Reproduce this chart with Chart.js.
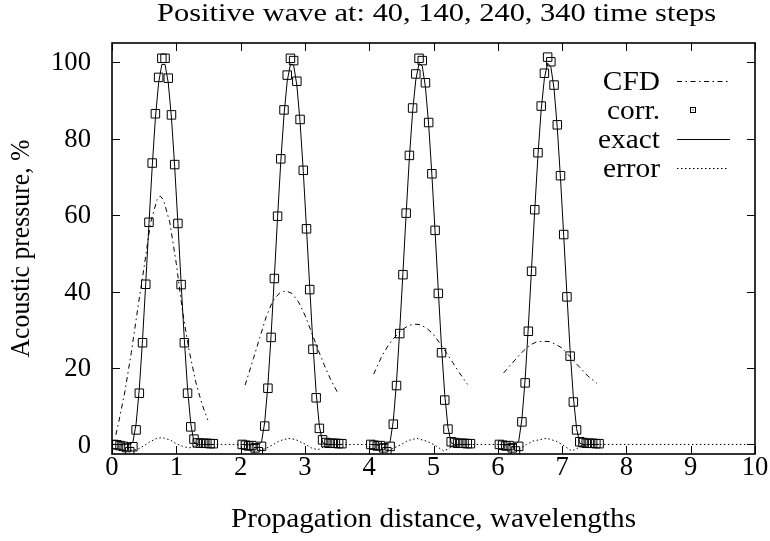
<!DOCTYPE html>
<html>
<head>
<meta charset="utf-8">
<script src="https://cdn.jsdelivr.net/npm/chart.js@4.4.1/dist/chart.umd.min.js"></script>
<style>
html,body{margin:0;padding:0;background:#fff;}
canvas{display:block;}
</style>
</head>
<body>
<canvas id="c" width="770" height="541"></canvas>
<script>
// ---------- DATA ----------
const titleText = "Positive wave at: 40, 140, 240, 340 time steps";
const xTitle = "Propagation distance, wavelengths";
const yTitle = "Acoustic pressure, %";
const xTicks = [0,1,2,3,4,5,6,7,8,9,10];
const yTicks = [0,20,40,60,80,100];
const legendLabels = ["CFD","corr.","exact","error"];

// corrected solution (squares)
const corrX1 = [0.025,0.075,0.125,0.175,0.225,0.275,0.325,0.375,0.425,0.475,0.525,0.575,0.625,0.675,0.725,0.775,0.825,0.875,0.925,0.975,1.025,1.075,1.125,1.175,1.225,1.275,1.325,1.375,1.425,1.475,1.525,1.575];
const corrY1 = [0.0,-0.1,-0.3,-0.5,-0.8,-1.9,-0.6,3.8,13.4,26.6,41.9,58.1,73.6,86.5,96.0,101.0,101.0,95.8,86.2,73.2,57.8,41.8,26.6,13.4,4.6,1.4,0.4,0.3,0.3,0.3,0.2,0.2];
const corrX2 = [2.025,2.075,2.125,2.175,2.225,2.275,2.325,2.375,2.425,2.475,2.525,2.575,2.625,2.675,2.725,2.775,2.825,2.875,2.925,2.975,3.025,3.075,3.125,3.175,3.225,3.275,3.325,3.375,3.425,3.475,3.525,3.575];
const corrY2 = [0.0,-0.2,-0.4,-0.3,-0.9,-1.9,-0.5,4.8,14.7,28.0,43.4,59.7,74.7,87.5,96.6,101.0,100.4,95.0,85.0,71.7,56.4,40.5,24.9,12.2,4.2,1.2,0.5,0.3,0.3,0.3,0.2,0.2];
const corrX3 = [4.025,4.075,4.125,4.175,4.225,4.275,4.325,4.375,4.425,4.475,4.525,4.575,4.625,4.675,4.725,4.775,4.825,4.875,4.925,4.975,5.025,5.075,5.125,5.175,5.225,5.275,5.325,5.375,5.425,5.475,5.525,5.575];
const corrY3 = [0.0,-0.2,-0.4,-0.3,-0.9,-1.9,-0.5,5.3,15.4,29.0,44.4,60.5,75.6,88.0,96.9,101.0,100.4,94.6,84.2,70.8,56.0,39.5,24.0,11.6,4.0,0.7,0.5,0.3,0.3,0.3,0.2,0.2];
const corrX4 = [6.025,6.075,6.125,6.175,6.225,6.275,6.325,6.375,6.425,6.475,6.525,6.575,6.625,6.675,6.725,6.775,6.825,6.875,6.925,6.975,7.025,7.075,7.125,7.175,7.225,7.275,7.325,7.375,7.425,7.475,7.525,7.575];
const corrY4 = [0.0,-0.2,-0.4,-0.3,-0.9,-1.7,-0.5,5.9,16.1,29.6,45.3,61.4,76.3,88.5,97.1,101.3,100.1,94.0,83.6,70.3,54.9,38.6,23.1,11.1,3.8,0.7,0.5,0.3,0.3,0.3,0.2,0.2];

// exact solution (solid line)
const exactY1 = [0,0,0,0,0,0,0.6,5.4,14.6,27.4,42.2,57.8,72.6,85.4,94.6,99.4,99.4,94.6,85.4,72.6,57.8,42.2,27.4,14.6,5.4,0.6,0,0,0,0,0,0];
const exactY2 = [0,0,0,0,0,0,0.6,5.8,15.6,28.8,43.8,59.4,74.0,86.2,95.0,99.5,99.2,93.9,84.4,71.4,56.4,41.2,26.2,13.6,4.8,0.5,0,0,0,0,0,0];
const exactY3 = [0,0,0,0,0,0,0.7,6.2,16.4,30.0,45.0,60.5,75.0,87.0,95.4,99.6,99.0,93.4,83.6,70.5,55.6,40.2,25.4,13.0,4.5,0.4,0,0,0,0,0,0];
const exactY4 = [0,0,0,0,0,0,0.8,6.6,17.0,30.8,46.0,61.4,75.8,87.6,95.8,99.7,98.8,93.0,82.9,69.6,54.6,39.2,24.5,12.4,4.2,0.3,0,0,0,0,0,0];

// raw CFD solution (dash-dot line)
const cfdX1 = [0.06,0.1,0.2,0.3,0.4,0.5,0.6,0.7,0.75,0.8,0.9,1.0,1.1,1.2,1.3,1.4,1.49];
const cfdY1 = [2.5,5.5,13.8,24.0,35.5,46.5,58.0,64.0,65.0,64.0,58.0,47.3,34.5,24.5,16.5,10.5,6.4];
const cfdX2 = [2.07,2.2,2.3,2.4,2.5,2.6,2.7,2.8,2.9,3.0,3.1,3.2,3.3,3.4,3.51];
const cfdY2 = [15.5,22.5,28.0,33.5,37.5,39.5,40.2,39.5,37.3,33.8,29.5,25.0,20.8,17.0,13.5];
const cfdX3 = [4.07,4.2,4.3,4.4,4.5,4.6,4.7,4.8,4.9,5.0,5.1,5.2,5.3,5.4,5.53];
const cfdY3 = [18.4,23.2,26.0,28.1,29.8,31.0,31.5,31.3,30.3,28.8,26.4,24.0,21.4,18.8,15.7];
const cfdX4 = [6.09,6.2,6.3,6.4,6.5,6.6,6.7,6.8,6.9,7.0,7.1,7.2,7.3,7.4,7.54];
const cfdY4 = [18.7,20.8,22.7,24.5,26.0,26.8,27.0,26.9,26.2,25.2,23.4,21.5,19.7,17.9,16.0];

// error (dotted line)
const errX = [0,0.1,0.2,0.3,0.4,0.5,0.6,0.7,0.78,0.9,1.0,1.1,1.2,1.3,1.4,
              2.0,2.2,2.3,2.4,2.5,2.6,2.74,2.85,3.0,3.1,3.2,3.3,3.4,
              4.0,4.2,4.3,4.4,4.5,4.6,4.74,4.9,5.0,5.16,5.3,5.4,
              6.0,6.2,6.3,6.45,6.55,6.76,6.9,7.0,7.15,7.3,7.4,10.0];
const errY = [0,0,-0.3,-1.5,-1.3,-0.3,0.8,1.6,1.8,1.2,0.2,-0.5,-0.9,-0.4,0,
              0,-0.3,-1.5,-1.0,-0.1,0.9,1.6,1.3,0.1,-0.9,-1.4,-0.6,0,
              0,-0.3,-1.5,-0.8,0,1.0,1.6,0.8,0,-1.7,-0.5,0,
              0,-0.3,-1.5,0,0.9,1.6,0.9,0,-1.7,-0.5,0,0];

// ---------- BUILD ----------
function pts(xs, ys){ return xs.map((x,i)=>({x:x, y:ys[i]})); }
function joinGaps(parts){ const out=[]; parts.forEach((p,i)=>{ if(i) out.push({x:p[0].x-0.01, y:null}); out.push(...p); }); return out; }

const corrData = [].concat(pts(corrX1,corrY1),pts(corrX2,corrY2),pts(corrX3,corrY3),pts(corrX4,corrY4));
const exactData = joinGaps([pts(corrX1,exactY1),pts(corrX2,exactY2),pts(corrX3,exactY3),pts(corrX4,exactY4)]);
const cfdData = joinGaps([pts(cfdX1,cfdY1),pts(cfdX2,cfdY2),pts(cfdX3,cfdY3),pts(cfdX4,cfdY4)]);
const errData = pts(errX, errY);

const FONT = '"Liberation Serif", "Times New Roman", serif';
const CFD_DASH = [5,3.5,1.5,3.5];
const ERR_DASH = [1.5,2.5];

function txt(ctx, s, x, y, size, targetW, align, rot){
  ctx.save();
  ctx.font = size + 'px ' + FONT;
  const w = ctx.measureText(s).width;
  const sx = targetW ? targetW / w : 1;
  ctx.translate(x, y);
  if (rot) ctx.rotate(-Math.PI/2);
  ctx.scale(sx, 1);
  ctx.textAlign = align;
  ctx.textBaseline = 'middle';
  ctx.fillStyle = '#000';
  ctx.fillText(s, 0, 0);
  ctx.restore();
}

const decor = {
  id: 'decor',
  afterDatasetsDraw(chart){
    const ctx = chart.ctx;
    const {left, right, top, bottom} = chart.chartArea;
    const xs = chart.scales.x, ys = chart.scales.y;
    ctx.save();
    // ticks (inward, mirrored)
    ctx.strokeStyle = '#000';
    ctx.lineWidth = 1;
    const tl = 8;
    ctx.beginPath();
    xTicks.forEach(v => {
      const p = Math.round(xs.getPixelForValue(v)) + 0.5;
      ctx.moveTo(p, bottom); ctx.lineTo(p, bottom - tl);
      ctx.moveTo(p, top); ctx.lineTo(p, top + tl);
    });
    yTicks.forEach(v => {
      const p = Math.round(ys.getPixelForValue(v)) + 0.5;
      ctx.moveTo(left, p); ctx.lineTo(left + tl, p);
      ctx.moveTo(right, p); ctx.lineTo(right - tl, p);
    });
    ctx.stroke();
    // frame
    ctx.lineWidth = 1.6;
    ctx.strokeRect(left, top, right - left, bottom - top);

    const TS = 27;
    // tick labels
    ctx.font = TS + 'px ' + FONT;
    const digitStretch = 40 / ctx.measureText('100').width;
    yTicks.forEach(v => {
      const s = String(v);
      ctx.font = TS + 'px ' + FONT;
      const w = ctx.measureText(s).width * digitStretch;
      txt(ctx, s, left - 21, ys.getPixelForValue(v) + 1, TS, w, 'right');
    });
    xTicks.forEach(v => {
      const s = String(v);
      ctx.font = TS + 'px ' + FONT;
      const w = ctx.measureText(s).width * digitStretch;
      txt(ctx, s, xs.getPixelForValue(v), bottom + 14, TS, w, 'center');
    });
    // titles
    txt(ctx, titleText, 436.5, 14, 25, 559, 'center');
    txt(ctx, xTitle, (left + right) / 2, 520, 27, 405, 'center');
    txt(ctx, yTitle, 22, (top + bottom) / 2, 27, 218, 'center', true);

    // legend
    const rowsY = [83, 112, 141, 170];
    ctx.font = '27px ' + FONT;
    const legStretch = 62 / ctx.measureText('exact').width;
    legendLabels.forEach((lab, i) => {
      ctx.font = '27px ' + FONT;
      const w = ctx.measureText(lab).width * legStretch;
      txt(ctx, lab, 660, rowsY[i], 27, w, 'right');
    });
    ctx.lineWidth = 1;
    ctx.strokeStyle = '#000';
    // CFD sample
    ctx.setLineDash(CFD_DASH);
    ctx.beginPath(); ctx.moveTo(677, rowsY[0] - 1.5); ctx.lineTo(728, rowsY[0] - 1.5); ctx.stroke();
    // exact sample
    ctx.setLineDash([]);
    ctx.beginPath(); ctx.moveTo(677, rowsY[2] - 1.5); ctx.lineTo(730, rowsY[2] - 1.5); ctx.stroke();
    // corr sample
    ctx.strokeRect(690.5, rowsY[1] - 4.5, 5, 5);
    ctx.fillStyle = '#000';
    ctx.fillRect(692.5, rowsY[1] - 2.5, 1, 1);
    // error sample
    ctx.setLineDash(ERR_DASH);
    ctx.beginPath(); ctx.moveTo(677, rowsY[3] - 1.5); ctx.lineTo(728, rowsY[3] - 1.5); ctx.stroke();
    ctx.restore();
  }
};

new Chart(document.getElementById('c'), {
  type: 'scatter',
  data: {
    datasets: [
      { label: 'error', data: errData, showLine: true, borderColor: '#000', borderWidth: 1, borderDash: ERR_DASH, pointRadius: 0, fill: false },
      { label: 'CFD', data: cfdData, showLine: true, borderColor: '#000', borderWidth: 1, borderDash: CFD_DASH, pointRadius: 0, fill: false },
      { label: 'exact', data: exactData, showLine: true, borderColor: '#000', borderWidth: 1, pointRadius: 0, fill: false },
      { label: 'corr.', data: corrData, showLine: false, pointStyle: 'rect', pointRadius: 6, borderColor: '#000', borderWidth: 1, backgroundColor: 'rgba(0,0,0,0)' }
    ]
  },
  options: {
    responsive: false,
    animation: false,
    devicePixelRatio: 1,
    layout: { padding: { left: 112, right: 15, top: 43, bottom: 87 } },
    scales: {
      x: { type: 'linear', min: 0, max: 10, display: false },
      y: { type: 'linear', min: -2.5, max: 105, display: false }
    },
    elements: { line: { tension: 0 } },
    plugins: { legend: { display: false }, tooltip: { enabled: false }, title: { display: false } }
  },
  plugins: [decor]
});
</script>
</body>
</html>
